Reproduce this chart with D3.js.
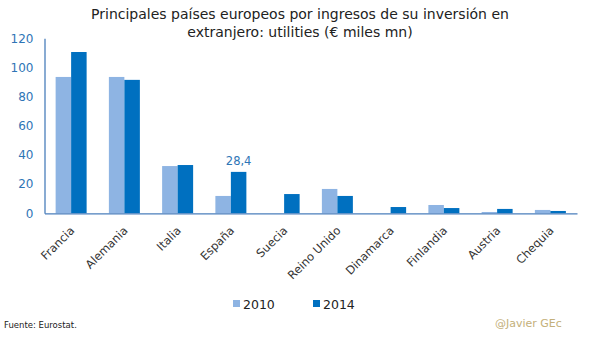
<!DOCTYPE html>
<html lang="es">
<head>
<meta charset="utf-8">
<title>Utilities</title>
<script src="https://cdn.jsdelivr.net/npm/d3@7"></script>
<style>
  body { margin: 0; background: #fff; }
  text { font-family: "DejaVu Sans", sans-serif; }
</style>
</head>
<body>
<div id="chart"></div>
<script>
// datos
var paises = ["Francia", "Alemania", "Italia", "España", "Suecia", "Reino Unido",
              "Dinamarca", "Finlandia", "Austria", "Chequia"];
var v2010 = [93.5, 93.5, 32.4, 11.9, 0, 16.7, 0, 5.7, 0.9, 2.3];
var v2014 = [110.6, 91.5, 33.1, 28.4, 13.2, 11.9, 4.3, 3.6, 3.0, 1.6];
var yTicks = [0, 20, 40, 60, 80, 100, 120];
var series = ["2010", "2014"];
var colores = ["#8EB4E3", "#0070C0"];

var w = 605, h = 337;
var mLeft = 44.5, mRight = 577, mTop = 38.3, mBottom = 213.3;

var svg = d3.select("#chart").append("svg")
  .attr("width", w).attr("height", h);

var x = d3.scaleBand().domain(paises).range([mLeft, mRight]);
var y = d3.scaleLinear().domain([0, 120]).range([mBottom, mTop]);
var barW = 15.5;

// titulo
var title = svg.append("text")
  .attr("text-anchor", "middle")
  .attr("font-size", "14px")
  .attr("fill", "#222");
title.append("tspan").attr("x", 300).attr("y", 19).text("Principales países europeos por ingresos de su inversión en");
title.append("tspan").attr("x", 300).attr("y", 37).text("extranjero: utilities (€ miles mn)");

// barras
[v2010, v2014].forEach(function(vals, s) {
  svg.append("g").selectAll("rect")
    .data(vals)
    .enter().append("rect")
    .attr("x", function(d, i) { return x(paises[i]) + x.bandwidth() / 2 - barW + s * barW; })
    .attr("y", function(d) { return y(d); })
    .attr("width", barW)
    .attr("height", function(d) { return mBottom - y(d); })
    .attr("fill", colores[s]);
});

// etiqueta España 2014
svg.append("text")
  .attr("x", x("España") + x.bandwidth() / 2 + barW / 2)
  .attr("y", y(v2014[3]) - 7)
  .attr("text-anchor", "middle")
  .attr("font-size", "11.5px")
  .attr("fill", "#2E75B6")
  .text(String(v2014[3]).replace(".", ","));

// eje y
var yAxis = svg.append("g")
  .attr("transform", "translate(" + mLeft + ",0)")
  .call(d3.axisLeft(y).tickValues(yTicks).tickSize(0).tickPadding(11));
yAxis.select(".domain").attr("stroke", "#4A7EBB").attr("stroke-width", 1.3);
yAxis.selectAll("text").attr("font-size", "12px").attr("fill", "#2E75B6")
  .style("font-family", "DejaVu Sans, sans-serif");

// eje x
var xAxis = svg.append("g")
  .attr("transform", "translate(0," + mBottom + ")")
  .call(d3.axisBottom(x).tickSize(0).tickSizeOuter(0));
xAxis.select(".domain").attr("stroke", "#4A7EBB").attr("stroke-width", 1.3);
xAxis.selectAll("text")
  .attr("font-size", "11.5px")
  .attr("fill", "#333")
  .style("font-family", "DejaVu Sans, sans-serif")
  .attr("text-anchor", "end")
  .attr("dy", null)
  .attr("y", 0)
  .attr("transform", "translate(4,18) rotate(-45)");

// leyenda
var leg = svg.append("g").selectAll("g")
  .data(series)
  .enter().append("g")
  .attr("transform", function(d, i) { return "translate(" + (233 + i * 80) + ",300)"; });
leg.append("rect").attr("width", 7).attr("height", 7).attr("fill", function(d, i) { return colores[i]; });
leg.append("text").attr("x", 10).attr("y", 8.5).attr("font-size", "12.5px").attr("fill", "#222").text(function(d) { return d; });

// fuente
svg.append("text").attr("x", 4).attr("y", 328).attr("font-size", "8.5px").attr("fill", "#222").text("Fuente: Eurostat.");
svg.append("text").attr("x", 495).attr("y", 327).attr("font-size", "11px").attr("fill", "#C4B07A").text("@Javier GEc");
</script>
</body>
</html>
